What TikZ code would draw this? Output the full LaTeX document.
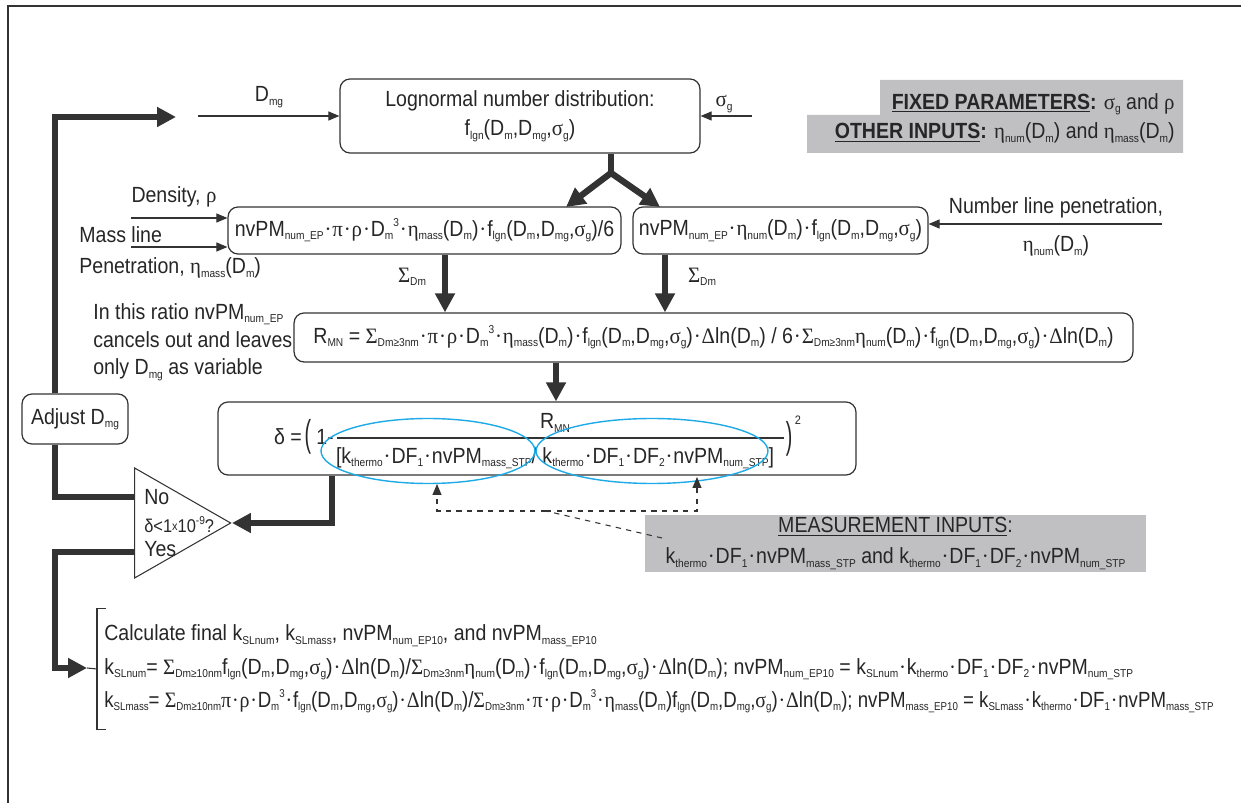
\documentclass[tikz,border=0pt]{standalone}
\usepackage{fontspec}
\usepackage{graphicx}
\setmainfont{Liberation Sans}[FakeStretch=0.89]
\newfontfamily\gkfont{Liberation Serif}[FakeStretch=0.95]
\usetikzlibrary{arrows.meta, positioning, shapes.geometric}

\definecolor{linegray}{RGB}{51,51,51}
\definecolor{boxgray}{RGB}{192,192,194}
\definecolor{ellblue}{RGB}{30,170,230}

% small sub- and superscripts, Greek letters
\newcommand{\lo}[1]{\raisebox{-2pt}{\fontsize{6.5}{7}\selectfont#1}}
\newcommand{\hi}[1]{\raisebox{5.5pt}{\fontsize{6.5}{7}\selectfont#1}}
\newcommand{\gr}[1]{{\gkfont#1}}
\newcommand{\md}{\kern0.5pt{\gkfont·}\kern0.5pt}
\newcommand{\Dm}{D\lo{m}}
\newcommand{\flgn}{f\lo{lgn}(\Dm,D\lo{mg},\gr{σ}\lo{g})}

\tikzstyle{procbox} = [draw=linegray, line width=0.7pt, rounded corners=0.2cm, inner sep=0pt, align=center]
\tikzstyle{txt} = [inner sep=0pt]
\tikzstyle{thickline} = [draw=linegray, line width=3.6pt]
\tikzstyle{thickarrow} = [thickline, -{Triangle[length=0.38cm,width=0.38cm]}]
\tikzstyle{thinline} = [draw=linegray, line width=0.6pt]
\tikzstyle{thinarrow} = [thinline, -{Triangle[length=0.22cm,width=0.18cm]}]
\tikzstyle{dasharrow} = [thinarrow, dashed]
\tikzstyle{ellring} = [ellipse, draw=ellblue, line width=0.8pt, inner sep=0pt]

\begin{document}
\begin{tikzpicture}[x=0.02cm, y=-0.02cm, font=\fontsize{12.5}{16}\selectfont, text=black!85]
    \useasboundingbox (0,0) rectangle (1241,803);
    \draw[linegray, line width=0.8pt] (1241,6) -- (8,6) -- (8,803);

    % Boxes
    \node[procbox, minimum width=7.2cm, minimum height=1.48cm, font=\fontsize{12.5}{16.5}\selectfont] (logn) at (520,116)
        {Lognormal number distribution:\\\flgn};
    \node[procbox, minimum width=7.86cm, minimum height=0.94cm] (massbox) at (424.5,230.5)
        {nvPM\lo{num\_EP}\md\gr{π}\md\gr{ρ}\md D\lo{m}\hi{3}\md\gr{η}\lo{mass}(\Dm)\md\flgn/6};
    \node[procbox, minimum width=5.9cm, minimum height=0.94cm] (numbox) at (780.5,230.5)
        {nvPM\lo{num\_EP}\md\gr{η}\lo{num}(\Dm)\md\flgn};
    \node[procbox, minimum width=16.78cm, minimum height=0.98cm] (rmn) at (713.5,337.5)
        {R\lo{MN} = \gr{Σ}\lo{Dm≥3nm}\md\gr{π}\md\gr{ρ}\md D\lo{m}\hi{3}\md\gr{η}\lo{mass}(\Dm)\md\flgn\md\gr{Δ}ln(\Dm) / 6\md\gr{Σ}\lo{Dm≥3nm}\gr{η}\lo{num}(\Dm)\md\flgn\md\gr{Δ}ln(\Dm)};
    \node[procbox, minimum width=12.76cm, minimum height=1.46cm] (delta) at (537,438.5) {};
    \node[procbox, minimum width=2.12cm, minimum height=1cm] (adjust) at (75,419) {Adjust D\lo{mg}};
    \node[isosceles triangle, isosceles triangle stretches, draw=linegray, line width=0.6pt, inner sep=0pt,
        minimum width=2.2cm, minimum height=1.92cm, anchor=apex] (tri) at (232,523) {};

    % Delta formula
    \node[txt] (dlhs) at (288,437) {δ =};
    \node[txt] (lpar) at (308,437) {\scalebox{1}[1.7]{(}};
    \node[txt] (one) at (325,437) {1-};
    \draw[thinline] (337,438) -- (784,438);
    \node[txt] (numer) at (555,423) {R\lo{MN}};
    \node[txt] (denom) at (555,458) {[k\lo{thermo}\md DF\lo{1}\md nvPM\lo{mass\_STP}/ k\lo{thermo}\md DF\lo{1}\md DF\lo{2}\md nvPM\lo{num\_STP}]};
    \node[txt] (rpar) at (789,439) {\scalebox{1}[1.7]{)}};
    \node[txt] (sq) at (798,420) {\fontsize{7}{7}\selectfont 2};
    \node[ellring, minimum width=4.28cm, minimum height=1.3cm] (ellmass) at (428,451) {};
    \node[ellring, minimum width=4.64cm, minimum height=1.3cm] (ellnum) at (652,451) {};

    % Triangle texts
    \node[txt, anchor=west] (notxt) at (144,497) {No};
    \node[txt, anchor=west] (crit) at (144,525) {\fontsize{10.5}{12}\selectfont δ<1\raisebox{1.5pt}{\fontsize{7}{7}\selectfont x}10\raisebox{4.5pt}{\fontsize{6.5}{7}\selectfont -9}?};
    \node[txt, anchor=west] (yestxt) at (144,549) {Yes};

    % Labels
    \node[txt] (dmglbl) at (269,97) {D\lo{mg}};
    \node[txt] (sglbl) at (724,104) {\gr{σ}\lo{g}};
    \node[txt] (denslbl) at (174,197) {Density, \gr{ρ}};
    \node[txt, anchor=west] (masslbl) at (79,235) {Mass line};
    \node[txt, anchor=west] (penlbl) at (79,268) {Penetration, \gr{η}\lo{mass}(\Dm)};
    \node[txt] (nlplbl) at (1056,208) {Number line penetration,};
    \node[txt] (etanum) at (1056,246) {\gr{η}\lo{num}(\Dm)};
    \node[txt] (sumL) at (412,277) {\gr{Σ}\lo{Dm}};
    \node[txt] (sumR) at (702,277) {\gr{Σ}\lo{Dm}};
    \node[txt, anchor=west, align=left, font=\fontsize{12.5}{15.9}\selectfont] (ratio) at (93,342)
        {In this ratio nvPM\lo{num\_EP}\\cancels out and leaves\\only D\lo{mg} as variable};

    % Info boxes
    \fill[boxgray] (880,80) -- (1183,80) -- (1183,153) -- (807,153) -- (807,115) -- (880,115) -- cycle;
    \node[txt, anchor=east] (fixed) at (1175,104) {\underline{\textbf{FIXED PARAMETERS}}\textbf{:} \gr{σ}\lo{g} and \gr{ρ}};
    \node[txt, anchor=east] (other) at (1175,133) {\underline{\textbf{OTHER INPUTS}}\textbf{:} \gr{η}\lo{num}(\Dm) and \gr{η}\lo{mass}(\Dm)};
    \node[fill=boxgray, inner sep=0pt, minimum width=10.02cm, minimum height=1.14cm, align=center,
        font=\fontsize{12.5}{17.6}\selectfont] (meas) at (895.5,543.5)
        {\underline{MEASUREMENT INPUTS}:\\k\lo{thermo}\md DF\lo{1}\md nvPM\lo{mass\_STP} and k\lo{thermo}\md DF\lo{1}\md DF\lo{2}\md nvPM\lo{num\_STP}};

    % Final results
    \node[txt, anchor=west, align=left, minimum height=2.4cm, inner xsep=0.14cm,
        font=\fontsize{12.5}{19}\selectfont] (final) at (97,669)
        {Calculate final k\lo{SLnum}, k\lo{SLmass}, nvPM\lo{num\_EP10}, and nvPM\lo{mass\_EP10}\\
        k\lo{SLnum}= \gr{Σ}\lo{Dm≥10nm}\flgn\md\gr{Δ}ln(\Dm)/\gr{Σ}\lo{Dm≥3nm}\gr{η}\lo{num}(\Dm)\md\flgn\md\gr{Δ}ln(\Dm); nvPM\lo{num\_EP10} = k\lo{SLnum}\md k\lo{thermo}\md DF\lo{1}\md DF\lo{2}\md nvPM\lo{num\_STP}\\
        \scalebox{0.955}[1]{k\lo{SLmass}= \gr{Σ}\lo{Dm≥10nm}\gr{π}\md\gr{ρ}\md D\lo{m}\hi{3}\md\flgn\md\gr{Δ}ln(\Dm)/\gr{Σ}\lo{Dm≥3nm}\md\gr{π}\md\gr{ρ}\md D\lo{m}\hi{3}\md\gr{η}\lo{mass}(\Dm)\flgn\md\gr{Δ}ln(\Dm); nvPM\lo{mass\_EP10} = k\lo{SLmass}\md k\lo{thermo}\md DF\lo{1}\md nvPM\lo{mass\_STP}}};
    \draw[thinline] ([xshift=0.18cm]final.north west) -- (final.north west) -- (final.south west) -- ([xshift=0.18cm]final.south west);

    % Coordinates for connectors
    \coordinate (lft) at (55,0);
    \coordinate (fbend) at (176,117);
    \coordinate (yj) at (611,173);
    \coordinate (tipL) at (566,207);
    \coordinate (tipR) at (660,207);
    \coordinate (colL) at (445,0);
    \coordinate (colR) at (665,0);
    \coordinate (colD) at (556,0);
    \coordinate (dcol) at (332,0);
    \coordinate (yesin) at (87,668);
    \coordinate (dmgin) at (198,116);
    \coordinate (sgin) at (752,116);
    \coordinate (densin) at (131,218);
    \coordinate (penin) at (131,247);
    \coordinate (nlpin) at (1162,224);
    \coordinate (mlink) at (662,538);
    \coordinate (dj) at (546,511);
    \coordinate (masstip) at (437,484);
    \coordinate (numtip) at (697,477);

    % Thick arrows
    \draw[thickline] (logn.south -| yj) -- (yj);
    \draw[thickarrow] (yj) -- (tipL);
    \draw[thickarrow] (yj) -- (tipR);
    \draw[thickarrow] (massbox.south -| colL) -- (rmn.north -| colL);
    \draw[thickarrow] (numbox.south -| colR) -- (rmn.north -| colR);
    \draw[thickarrow] (rmn.south -| colD) -- (delta.north -| colD);
    \draw[thickarrow] (delta.south -| dcol) |- (tri.apex);
    \draw[thickline] ([yshift=0.52cm]tri.lower side) -| (adjust.south -| lft);
    \draw[thickarrow] (adjust.north -| lft) |- (fbend);
    \draw[thickarrow] ([yshift=-0.58cm]tri.lower side) -| (lft |- yesin) -- (yesin);
    \draw[thinline] (yesin) -- (final.west);

    % Thin arrows
    \draw[thinarrow] (dmgin) -- (logn.west);
    \draw[thinarrow] (sgin) -- (logn.east);
    \draw[thinarrow] (densin) -- (densin -| massbox.west);
    \draw[thinarrow] (penin) -- (penin -| massbox.west);
    \draw[thinarrow] (nlpin) -- (nlpin -| numbox.east);

    % Dashed links to measurements
    \draw[thinline, dashed] (mlink) -- (dj);
    \draw[dasharrow] (dj) -| (masstip);
    \draw[dasharrow] (dj) -| (numtip);
\end{tikzpicture}
\end{document}
